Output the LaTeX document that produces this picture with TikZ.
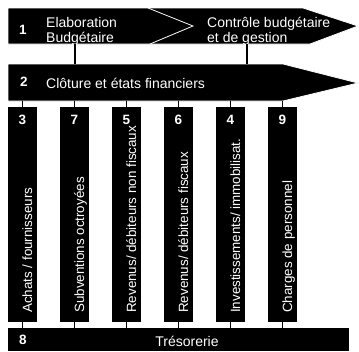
\documentclass[tikz,border=0pt]{standalone}
\usepackage{fontspec}
\setmainfont{Liberation Sans}
\usetikzlibrary{positioning}

\tikzset{
  banner/.style={fill=black, draw=white, line width=0.8pt},
  barbox/.style={fill=black, minimum width=29pt, minimum height=215pt, inner sep=0pt},
  num/.style={text=white, inner sep=0pt, font=\bfseries\fontsize{13.5}{15}\selectfont},
  lbl/.style={text=white, inner sep=0pt, align=left, font=\fontsize{14}{15.5}\selectfont},
  barlbl/.style={lbl, font=\fontsize{13.4}{15}\selectfont, rotate=90, anchor=base west}
}

\begin{document}
\begin{tikzpicture}[x=1pt,y=-1pt, link/.style={line width=1.3pt}]
    \useasboundingbox (0,0) rectangle (359,351);

    % budget arrows
    \draw[banner] (8,8) -- (303,8) -- (358,26) -- (310,44) -- (8,44) -- cycle;
    \draw[white, line width=0.8pt] (148,8) -- (193,26) -- (150,44);
    \node[num] (n1) at (23,30) {1};
    \node[lbl, anchor=west] (elab) at (46,31.5) {Elaboration\\Budgétaire};
    \node[lbl, anchor=west] (ctrl) at (207,31.5) {Contrôle budgétaire\\et de gestion};
    \coordinate (elabfoot) at (75,44);
    \coordinate (ctrlfoot) at (247,44);

    % closing arrow
    \draw[banner] (8,64) -- (283,64) -- (358,83) -- (283,101) -- (8,101) -- cycle;
    \node[num] (n2) at (24,82) {2};
    \node[lbl, anchor=west] (clot) at (46,83) {Clôture et états financiers};
    \draw[link] (elabfoot) -- (elabfoot |- 0,64);
    \draw[link] (ctrlfoot) -- (ctrlfoot |- 0,64);

    % treasury
    \node[fill=black, minimum width=341pt, minimum height=23pt, inner sep=0pt, anchor=north west] (tres) at (8,328) {};
    \node[num] (n8) at (23,340) {8};
    \node[lbl] (treslbl) at (187,341) {Trésorerie};

    % cycles
    \foreach \n/\t [count=\i from 0] in {3/{Achats / fournisseurs}, 7/{Subventions octroyées},
        5/{Revenus/ débiteurs non fiscaux}, 6/{Revenus/ débiteurs fiscaux},
        4/{Investissements/ immobilisat.}, 9/{Charges de personnel}} {
        \node[barbox] (bar\n) at (22.5+52*\i,214.5) {};
        \node[num] (num\n) at (22.5+52*\i,120) {\n};
        \node[barlbl] (txt\n) at (32+52*\i,313) {\t};
        \draw[link] (bar\n.north) -- (bar\n.north |- 0,101);
        \draw[link] (bar\n.south) -- (bar\n.south |- tres.north);
    }
\end{tikzpicture}
\end{document}
